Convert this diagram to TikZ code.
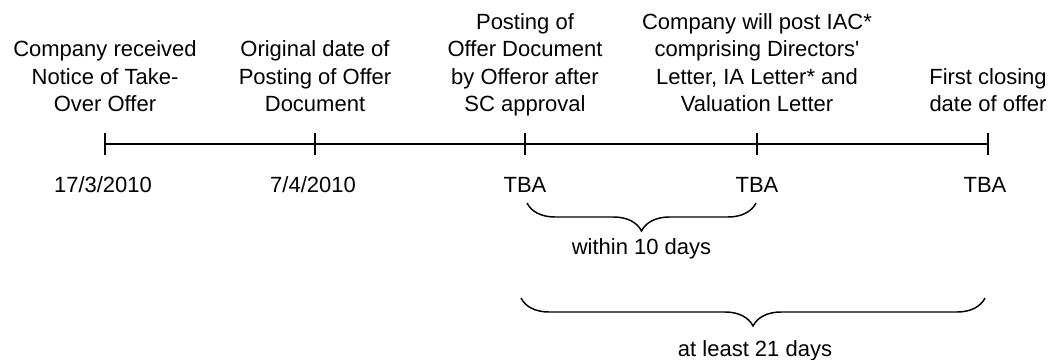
\documentclass[tikz,border=0pt]{standalone}
\usepackage{fontspec}
\setmainfont{Liberation Sans}
\usetikzlibrary{positioning,calc,decorations.pathreplacing}

\tikzset{
  eventlabel/.style={align=center, inner sep=0pt, text depth=0pt, font=\fontsize{16.5}{20.6}\selectfont},
  datelabel/.style={inner sep=0pt, font=\fontsize{16.5}{20.6}\selectfont},
  axisline/.style={line width=2.2pt},
  spanbrace/.style={decorate, decoration={brace, mirror, amplitude=21pt}, line width=1.1pt}
}

\begin{document}
\begin{tikzpicture}[x=0.75pt, y=-0.75pt]
  \useasboundingbox (0,0) rectangle (1052,360);

  % timeline with ticks
  \coordinate (t1) at (105,144);
  \coordinate (t2) at (315,144);
  \coordinate (t3) at (525,144);
  \coordinate (t4) at (757,144);
  \coordinate (t5) at (988,144);
  \draw[axisline] (t1) -- (t5);
  \foreach \t in {t1,t2,t3,t4,t5}
    \draw[axisline] ($(\t)+(0,-11)$) -- ($(\t)+(0,11)$);

  % events
  \node[eventlabel, above=24pt of t1] (e1) {Company received\\Notice of Take-\\Over Offer};
  \node[eventlabel, above=24pt of t2] (e2) {Original date of\\Posting of Offer\\Document};
  \node[eventlabel, above=24pt of t3] (e3) {Posting of\\Offer Document\\by Offeror after\\SC approval};
  \node[eventlabel, above=24pt of t4] (e4) {Company will post IAC*\\comprising Directors\textquotesingle\\Letter, IA Letter* and\\Valuation Letter};
  \node[eventlabel, above=24pt of t5] (e5) {First closing\\date of offer};

  % dates
  \node[datelabel, anchor=base] (d1) at ($(t1)+(-2,48)$) {17/3/2010};
  \node[datelabel, anchor=base] (d2) at ($(t2)+(-2,48)$) {7/4/2010};
  \node[datelabel, anchor=base] (d3) at ($(t3)+(0,48)$) {TBA};
  \node[datelabel, anchor=base] (d4) at ($(t4)+(0,48)$) {TBA};
  \node[datelabel, anchor=base] (d5) at ($(t5)+(-3,48)$) {TBA};

  % periods
  \coordinate (w1) at ($(t3)+(2,59)$);
  \coordinate (w2) at ($(t4)+(-1,59)$);
  \draw[spanbrace] (w1) -- (w2);
  \node[datelabel, anchor=base] (wl) at ($(w1)!0.5!(w2)+(0,51)$) {within 10 days};

  \coordinate (l1) at ($(t3)+(-4,154)$);
  \coordinate (l2) at ($(t5)+(-3,154)$);
  \draw[spanbrace] (l1) -- (l2);
  \node[datelabel, anchor=base] (ll) at ($(l1)!0.5!(l2)+(2,58)$) {at least 21 days};
\end{tikzpicture}
\end{document}
